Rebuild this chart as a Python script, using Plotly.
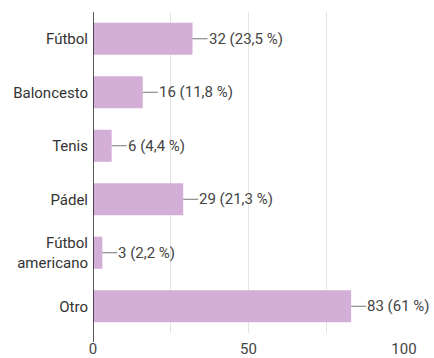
import plotly.graph_objects as go

categories = ["Fútbol", "Baloncesto", "Tenis", "Pádel", "Fútbol<br>americano", "Otro"]
counts = [32, 16, 6, 29, 3, 83]
percent_labels = ["23,5 %", "11,8 %", "4,4 %", "21,3 %", "2,2 %", "61 %"]
x_ticks = [0, 50, 100]

fig = go.Figure()
fig.add_trace(go.Bar(
    x=counts, y=categories, orientation="h",
    marker=dict(color="#d3afd8", line=dict(width=0)),
    hoverinfo="skip",
))

for c, v, p in zip(categories, counts, percent_labels):
    fig.add_annotation(
        x=v, y=c, xref="x", yref="y",
        text=f"{v} ({p})",
        showarrow=True, arrowhead=0, arrowwidth=1, arrowcolor="#757575",
        ax=15, ay=0, axref="pixel", ayref="pixel",
        xanchor="left", yanchor="middle", standoff=0,
        borderpad=0,
        font=dict(family="Roboto", size=15, color="#444444"),
    )

fig.add_shape(type="line", xref="x", yref="paper", x0=0, x1=0, y0=-0.028, y1=1,
              line=dict(color="#222222", width=1.5))

fig.update_layout(
    width=434, height=358,
    margin=dict(l=93, r=30, t=12, b=25, autoexpand=False),
    paper_bgcolor="white", plot_bgcolor="white",
    showlegend=False, bargap=0.4,
    font=dict(family="Roboto", size=15, color="#333333"),
    xaxis=dict(range=[0, 100], tickvals=x_ticks,
               showgrid=True, gridcolor="#e3e3e3", gridwidth=1,
               zeroline=False, showline=False, ticks="", automargin=False,
               ticklabelstandoff=5,
               tickfont=dict(family="Roboto", size=15, color="#444444"),
               minor=dict(tickvals=[25, 75], showgrid=True, gridcolor="#e3e3e3", gridwidth=1)),
    yaxis=dict(categoryorder="array", categoryarray=categories[::-1],
               showgrid=False, zeroline=False, ticks="", automargin=False,
               ticklabelstandoff=4,
               tickfont=dict(family="Roboto", size=15, color="#333333")),
)

fig.write_html("out.html")
